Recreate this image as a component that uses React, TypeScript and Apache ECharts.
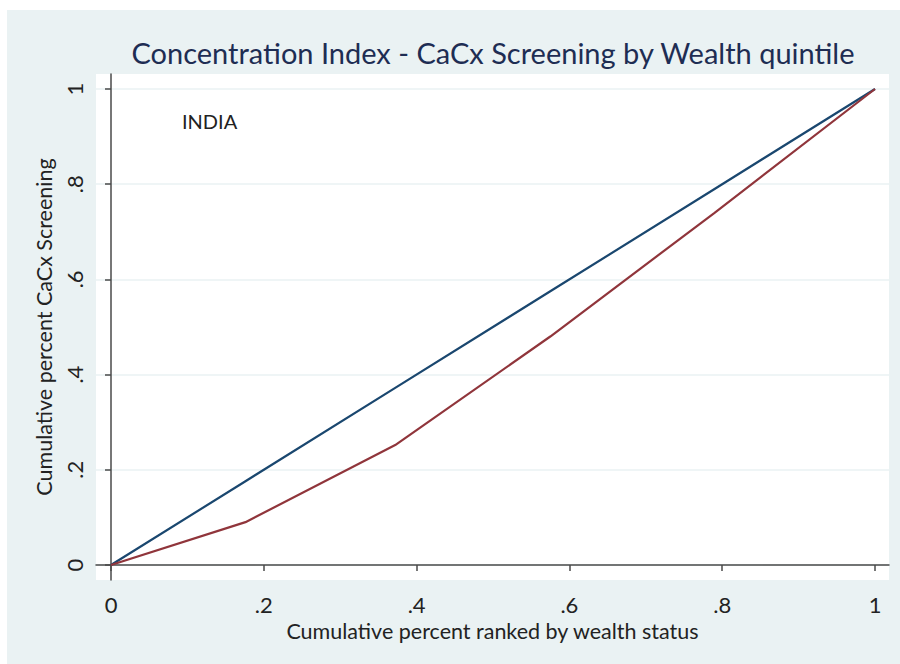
import React, { useEffect, useRef } from "react";
import * as echarts from "echarts";

const xShares = [0, 0.176, 0.372, 0.575, 0.79, 1];
const equalityLine = [0, 0.176, 0.372, 0.575, 0.79, 1];
const concentrationCurve = [0, 0.09, 0.252, 0.48, 0.74, 1];
const tickValues = [0, 0.2, 0.4, 0.6, 0.8, 1];
const tickLabels = ["0", ".2", ".4", ".6", ".8", "1"];

const FONT = "Lato, 'Open Sans', sans-serif";

function fmt(v: number) {
  const i = tickValues.findIndex((t) => Math.abs(t - v) < 1e-6);
  return i >= 0 ? tickLabels[i] : "";
}

export default function App() {
  const ref = useRef<HTMLDivElement>(null);
  useEffect(() => {
    if (!ref.current) return;
    const chart = echarts.init(ref.current, null, { renderer: "svg" });
    const axisCommon = {
      type: "value" as const,
      axisLine: { show: true, lineStyle: { color: "#4a4a4a", width: 1.5 } },
      axisTick: {
        show: true,
        length: 6,
        lineStyle: { color: "#4a4a4a", width: 1.5 },
        customValues: tickValues,
      },
      axisLabel: {
        customValues: tickValues,
        formatter: (v: number) => fmt(v),
        fontFamily: FONT,
        fontSize: 22,
        color: "#222",
      },
      nameLocation: "middle" as const,
      nameTextStyle: { fontFamily: FONT, fontSize: 21.5, color: "#222" },
    };
    chart.setOption({
      animation: false,
      backgroundColor: "#ffffff",
      graphic: [
        {
          type: "rect",
          z: -10,
          shape: { x: 7, y: 10, width: 893, height: 654 },
          style: { fill: "#eaf2f3" },
          silent: true,
        },
        {
          type: "rect",
          z: -9,
          shape: { x: 96, y: 74, width: 793, height: 506 },
          style: { fill: "#ffffff" },
          silent: true,
        },
        {
          type: "text",
          x: 182,
          y: 121,
          style: {
            text: "INDIA",
            font: `20px ${FONT}`,
            fill: "#222",
            verticalAlign: "middle",
          },
        },
      ],
      title: {
        text: "Concentration Index - CaCx Screening by Wealth quintile",
        left: 488,
        textAlign: "center",
        top: 33,
        textStyle: {
          fontFamily: FONT,
          fontSize: 29,
          fontWeight: "normal",
          color: "#1e2d53",
        },
      },
      grid: { left: 96, right: 11, top: 74, bottom: 84 },
      xAxis: {
        ...axisCommon,
        min: -15 / 764,
        max: 1 + 14 / 764,
        name: "Cumulative percent ranked by wealth status",
        nameGap: 38,
        splitLine: { show: false },
        axisLabel: { ...axisCommon.axisLabel, margin: 13 },
      },
      yAxis: {
        ...axisCommon,
        min: -15 / 476,
        max: 1 + 15 / 476,
        name: "Cumulative percent CaCx Screening",
        nameGap: 40,
        splitLine: { show: true, lineStyle: { color: "#eaf2f3", width: 1.5 } },
        axisLabel: { ...axisCommon.axisLabel, rotate: 90, margin: 11 },
      },
      series: [
        {
          type: "line",
          data: xShares.map((x, i) => [x, equalityLine[i]]),
          symbol: "none",
          lineStyle: { color: "#1a476f", width: 2.2 },
        },
        {
          type: "line",
          data: xShares.map((x, i) => [x, concentrationCurve[i]]),
          symbol: "none",
          lineStyle: { color: "#90353b", width: 2.2 },
        },
      ],
    });
    return () => chart.dispose();
  }, []);
  return (
    <div
      ref={ref}
      style={{ position: "fixed", left: 0, top: 0, width: 900, height: 664 }}
    />
  );
}
